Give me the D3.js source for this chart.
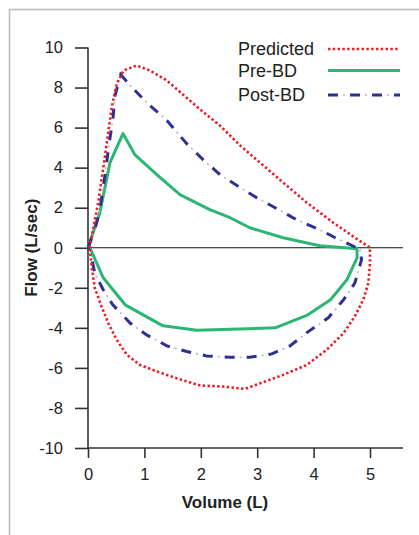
<!DOCTYPE html>
<html>
<head>
<meta charset="utf-8">
<script src="https://cdn.jsdelivr.net/npm/d3@7"></script>
<style>
  body { margin: 0; background: #fff; }
  svg { display: block; font-family: "Liberation Sans", Arial, Helvetica, sans-serif; }
</style>
</head>
<body>
<script>
// flow-volume loops, [volume (L), flow (L/sec)]
var predicted = [
  [0.03, 0], [0.09, 0.9], [0.18, 2.25], [0.27, 3.95], [0.35, 5.6], [0.42, 7.0], [0.51, 8.2],
  [0.63, 8.85], [0.86, 9.1], [1.1, 8.85], [1.4, 8.35], [1.99, 6.9], [2.34, 6.1], [2.7, 5.1],
  [3.05, 4.25], [3.4, 3.4], [3.88, 2.25], [4.35, 1.25], [4.7, 0.57], [5.0, 0],
  [5.0, -0.77], [4.97, -1.77], [4.88, -2.6], [4.73, -3.43], [4.53, -4.27], [4.23, -5.1],
  [3.88, -5.85], [3.46, -6.35], [3.05, -6.77], [2.78, -7.05], [2.4, -6.93], [1.99, -6.88],
  [1.63, -6.57], [1.22, -6.18], [0.92, -5.85], [0.69, -5.35], [0.51, -4.6], [0.36, -3.77],
  [0.24, -2.93], [0.12, -2.0], [0.065, -0.93], [0.03, 0]
];
var preBD = [
  [0, 0], [0.21, 1.75], [0.39, 4.25], [0.62, 5.7], [0.83, 4.65], [1.22, 3.65], [1.63, 2.65],
  [2.16, 1.9], [2.52, 1.5], [2.87, 1.0], [3.46, 0.5], [4.11, 0.1], [4.77, -0.05],
  [4.77, -0.5], [4.59, -1.6], [4.3, -2.6], [3.9, -3.35], [3.32, -4.0], [1.93, -4.12],
  [1.33, -3.9], [0.66, -2.85], [0.27, -1.5], [0.05, -0.1], [0, 0]
];
var postBD = [
  [0, 0], [0.12, 0.9], [0.21, 1.9], [0.3, 3.6], [0.38, 5.3], [0.44, 6.4], [0.48, 7.6],
  [0.58, 8.65], [0.75, 8.1], [1.04, 7.25], [1.4, 6.35], [1.75, 5.2], [2.04, 4.4], [2.34, 3.65],
  [2.7, 3.0], [2.99, 2.5], [3.35, 1.95], [3.7, 1.4], [4.11, 0.9], [4.35, 0.55], [4.76, 0],
  [4.82, -0.1], [4.85, -0.6], [4.73, -1.77], [4.53, -2.6], [4.26, -3.5], [3.9, -4.2],
  [3.58, -4.9], [3.26, -5.3], [2.87, -5.47], [2.52, -5.47], [2.1, -5.4], [1.75, -5.18],
  [1.4, -4.9], [1.04, -4.35], [0.75, -3.77], [0.44, -2.85], [0.27, -2.1], [0.12, -1.27],
  [0.05, -0.3], [0, 0]
];
var xTicks = [0, 1, 2, 3, 4, 5];
var yTicks = [-10, -8, -6, -4, -2, 0, 2, 4, 6, 8, 10];
var legendNames = ['Predicted', 'Pre-BD', 'Post-BD'];

var w = 419, h = 535;
var red = '#ed1c24', green = '#2bb673', blue = '#2e3192';

var svg = d3.select('body').append('svg')
    .attr('width', w)
    .attr('height', h);

// outer frame
svg.append('path')
    .attr('d', 'M9.5,' + h + 'V9.5H' + w)
    .attr('fill', 'none')
    .attr('stroke', '#b8b8b8')
    .attr('stroke-width', 1.5);

var x = d3.scaleLinear().domain([0, 5.585]).range([88, 403]);
var y = d3.scaleLinear().domain([-10, 10]).range([448, 47.5]);

var fmt = function (d) { return String(d); };

var gx = svg.append('g')
    .attr('transform', 'translate(0,' + y(-10) + ')')
    .call(d3.axisBottom(x).tickValues(xTicks).tickFormat(fmt).tickSize(10).tickPadding(10));
var gy = svg.append('g')
    .attr('transform', 'translate(' + x(0) + ',0)')
    .call(d3.axisLeft(y).tickValues(yTicks).tickFormat(fmt).tickSize(13).tickPadding(12));

[gx, gy].forEach(function (g) {
    g.select('.domain').remove();
    g.selectAll('line').attr('stroke', '#333').attr('stroke-width', 1.6);
    g.selectAll('text').attr('fill', '#222').style('font-size', '16.5px');
});

// axis lines
svg.append('line')
    .attr('x1', x(0)).attr('x2', x.range()[1])
    .attr('y1', y(-10)).attr('y2', y(-10))
    .attr('stroke', '#333').attr('stroke-width', 1.6);
svg.append('line')
    .attr('x1', x(0)).attr('x2', x(0))
    .attr('y1', y(10)).attr('y2', y(-10))
    .attr('stroke', '#333').attr('stroke-width', 1.6);

// zero line
svg.append('line')
    .attr('x1', x(0)).attr('x2', x.range()[1])
    .attr('y1', y(0)).attr('y2', y(0))
    .attr('stroke', '#111').attr('stroke-width', 1);

var line = d3.line()
    .x(function (d) { return x(d[0]); })
    .y(function (d) { return y(d[1]); });

svg.append('path').datum(preBD)
    .attr('d', line)
    .attr('fill', 'none')
    .attr('stroke', green)
    .attr('stroke-width', 3)
    .attr('stroke-linejoin', 'round');

// dash-dot: dark dashes plus faint light dots
svg.append('path').datum(postBD)
    .attr('d', line)
    .attr('fill', 'none')
    .attr('stroke', '#a9aedb')
    .attr('stroke-width', 1.5)
    .attr('stroke-dasharray', '0,15,2,5');
svg.append('path').datum(postBD)
    .attr('d', line)
    .attr('fill', 'none')
    .attr('stroke', blue)
    .attr('stroke-width', 3)
    .attr('stroke-dasharray', '10,12');

svg.append('path').datum(predicted)
    .attr('d', line)
    .attr('fill', 'none')
    .attr('stroke', red)
    .attr('stroke-width', 2.6)
    .attr('stroke-dasharray', '2.4,2.4');

// axis titles
svg.append('text')
    .attr('x', 225).attr('y', 508)
    .attr('text-anchor', 'middle')
    .style('font-size', '17px').style('font-weight', 'bold')
    .attr('fill', '#222')
    .text('Volume (L)');
svg.append('text')
    .attr('transform', 'translate(37,' + y(0) + ') rotate(-90)')
    .attr('text-anchor', 'middle')
    .style('font-size', '17px').style('font-weight', 'bold')
    .attr('fill', '#222')
    .text('Flow (L/sec)');

// legend
var legendY = [49, 70.5, 95];
var leg = svg.selectAll('.legend')
    .data(legendNames)
    .enter()
    .append('g')
    .attr('class', 'legend')
    .attr('transform', function (d, i) { return 'translate(0,' + legendY[i] + ')'; });

leg.append('text')
    .attr('x', 238).attr('y', 0)
    .attr('dy', '0.36em')
    .style('font-size', '18px')
    .attr('fill', '#222')
    .text(function (d) { return d; });

leg.filter(function (d, i) { return i === 0; }).append('line')
    .attr('x1', 328).attr('x2', 400).attr('y1', 0).attr('y2', 0)
    .attr('stroke', red).attr('stroke-width', 2.6).attr('stroke-dasharray', '2.4,2.4');
leg.filter(function (d, i) { return i === 1; }).append('line')
    .attr('x1', 328).attr('x2', 400).attr('y1', 0).attr('y2', 0)
    .attr('stroke', green).attr('stroke-width', 3);
leg.filter(function (d, i) { return i === 2; }).append('line')
    .attr('x1', 328).attr('x2', 400).attr('y1', 0).attr('y2', 0)
    .attr('stroke', '#a9aedb').attr('stroke-width', 1.5).attr('stroke-dasharray', '0,15,2,5');
leg.filter(function (d, i) { return i === 2; }).append('line')
    .attr('x1', 328).attr('x2', 400).attr('y1', 0).attr('y2', 0)
    .attr('stroke', blue).attr('stroke-width', 3).attr('stroke-dasharray', '10,12');
</script>
</body>
</html>
